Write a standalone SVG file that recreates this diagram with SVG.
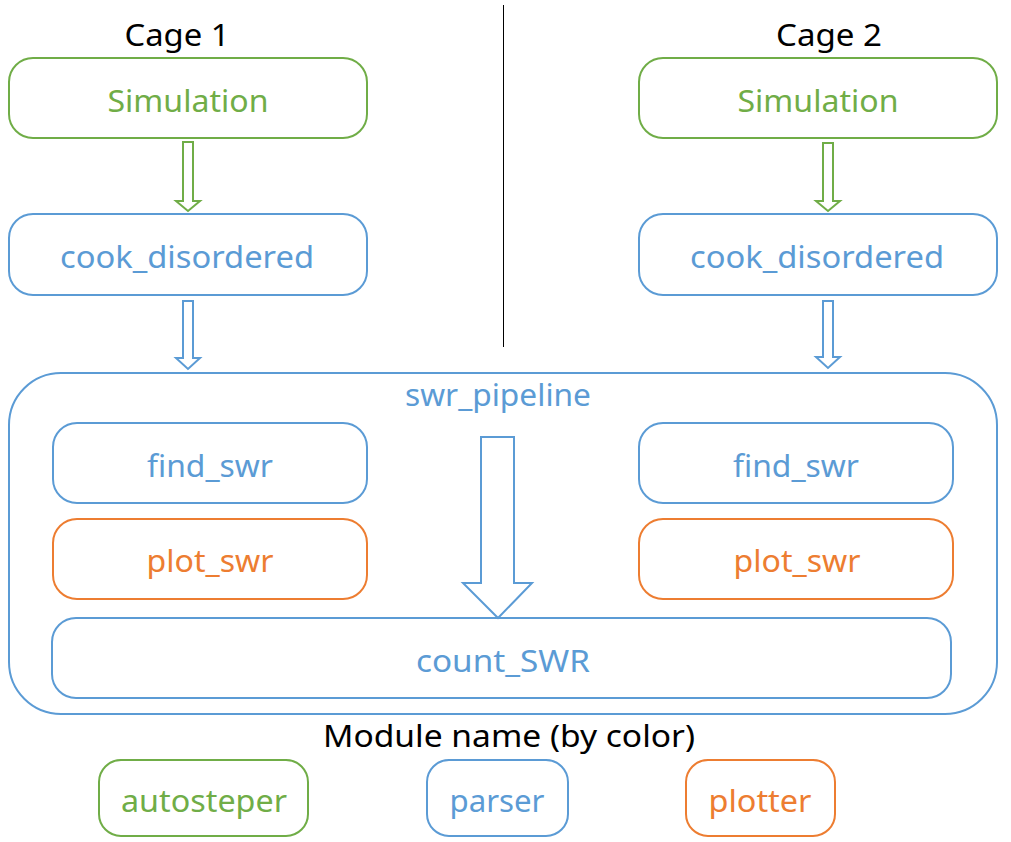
<svg xmlns="http://www.w3.org/2000/svg" width="1011" height="842" viewBox="0 0 1011 842">
<style>
text{font-family:"Noto Sans","Open Sans","DejaVu Sans",sans-serif;font-size:30px;text-anchor:middle}
.box{fill:#fff;stroke-width:2}
.g{stroke:#70AD47}.b{stroke:#5B9BD5}.o{stroke:#ED7D31}
.tg{fill:#70AD47}.tb{fill:#5B9BD5}.to{fill:#ED7D31}.tk{fill:#000}
.arr{fill:#fff;stroke-width:2;stroke-linejoin:miter}
</style>
<rect width="1011" height="842" fill="#fff"/>
<g id="labels">
<text class="tk" x="177" y="46" textLength="105" lengthAdjust="spacingAndGlyphs">Cage 1</text>
<text class="tk" x="829" y="46" textLength="106" lengthAdjust="spacingAndGlyphs">Cage 2</text>
<line x1="503.5" y1="5" x2="503.5" y2="347" stroke="#000" stroke-width="1"/>
</g>
<g id="swr_pipeline">
<rect class="box b" x="9" y="373" width="988" height="341" rx="52"/>
<text class="tb" x="498" y="406" textLength="186" lengthAdjust="spacingAndGlyphs">swr_pipeline</text>
</g>
<g id="sim1"><rect class="box g" x="9" y="58" width="358" height="80" rx="24"/>
<text class="tg" x="188" y="112" textLength="161" lengthAdjust="spacingAndGlyphs">Simulation</text></g>
<g id="cook1"><rect class="box b" x="9" y="214" width="358" height="81" rx="24"/>
<text class="tb" x="187" y="268" textLength="254" lengthAdjust="spacingAndGlyphs">cook_disordered</text></g>
<g id="sim2"><rect class="box g" x="639" y="58" width="358" height="80" rx="24"/>
<text class="tg" x="818" y="112" textLength="161" lengthAdjust="spacingAndGlyphs">Simulation</text></g>
<g id="cook2"><rect class="box b" x="639" y="214" width="358" height="81" rx="24"/>
<text class="tb" x="817" y="268" textLength="254" lengthAdjust="spacingAndGlyphs">cook_disordered</text></g>
<g id="find1"><rect class="box b" x="53" y="423" width="314" height="80" rx="24"/>
<text class="tb" x="210" y="477" textLength="126" lengthAdjust="spacingAndGlyphs">find_swr</text></g>
<g id="plot1"><rect class="box o" x="53" y="519" width="314" height="80" rx="24"/>
<text class="to" x="210" y="572" textLength="127" lengthAdjust="spacingAndGlyphs">plot_swr</text></g>
<g id="find2"><rect class="box b" x="639" y="423" width="314" height="80" rx="24"/>
<text class="tb" x="796" y="477" textLength="126" lengthAdjust="spacingAndGlyphs">find_swr</text></g>
<g id="plot2"><rect class="box o" x="639" y="519" width="314" height="80" rx="24"/>
<text class="to" x="797" y="572" textLength="127" lengthAdjust="spacingAndGlyphs">plot_swr</text></g>
<g id="count"><rect class="box b" x="52" y="618" width="899" height="80" rx="24"/>
<text class="tb" x="503" y="672" textLength="174" lengthAdjust="spacingAndGlyphs">count_SWR</text></g>
<g id="connectors">
<path class="arr g" d="M183,142 H193 V201 H200 L188,211 L176,201 H183 Z"/>
<path class="arr b" d="M183,301 H193 V358 H200 L188,369 L176,358 H183 Z"/>
<path class="arr g" d="M823,143 H833 V201 H840 L828,211 L816,201 H823 Z"/>
<path class="arr b" d="M823,301 H833 V357 H840 L828,368 L816,357 H823 Z"/>
<path class="arr b" d="M481,437 H514 V583 H532 L498,618 L463,583 H481 Z"/>
</g>
<g id="legend">
<text class="tk" x="509" y="747" textLength="372" lengthAdjust="spacingAndGlyphs">Module name (by color)</text>
<g id="leg_autosteper"><rect class="box g" x="99" y="760" width="209" height="76" rx="22"/>
<text class="tg" x="204" y="812" textLength="166" lengthAdjust="spacingAndGlyphs">autosteper</text></g>
<g id="leg_parser"><rect class="box b" x="427" y="760" width="141" height="76" rx="22"/>
<text class="tb" x="497" y="812" textLength="95" lengthAdjust="spacingAndGlyphs">parser</text></g>
<g id="leg_plotter"><rect class="box o" x="686" y="760" width="149" height="76" rx="22"/>
<text class="to" x="760" y="812" textLength="103" lengthAdjust="spacingAndGlyphs">plotter</text></g>
</g>
</svg>
